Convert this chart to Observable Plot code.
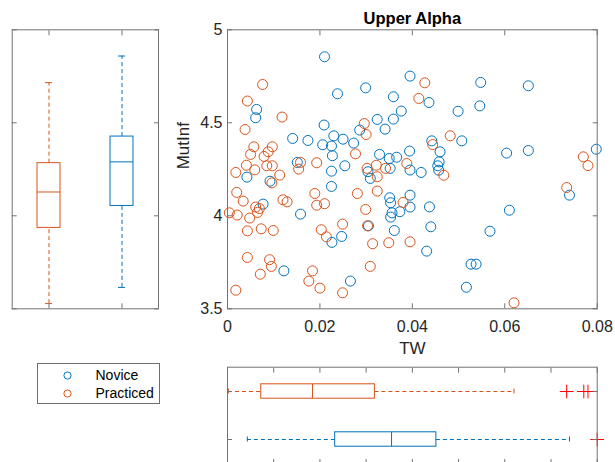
<!DOCTYPE html>
<html><head><meta charset="utf-8">
<script src="https://cdn.jsdelivr.net/npm/d3@7"></script>
<script src="https://cdn.jsdelivr.net/npm/@observablehq/plot@0.6"></script>
<style>
html,body{margin:0;padding:0;background:#fff;}
#wrap{position:relative;width:615px;height:462px;overflow:hidden;background:#fff;font-family:"Liberation Sans",Arial,Helvetica,sans-serif;}
</style></head><body><div id="wrap"></div>
<script>
// ---------- data ----------
const groups = ["Novice", "Practiced"];
const boxGroups = ["Practiced", "Novice"];
const titleText = "Upper Alpha";
const xLabel = "TW";
const yLabel = "MutInf";
const xTicks = [0, 0.02, 0.04, 0.06, 0.08];
const xTicksFine = [0, 0.01, 0.02, 0.03, 0.04, 0.05, 0.06, 0.07, 0.08];
const yTicks = [3.5, 4, 4.5, 5];

const noviceTW = [0.0210,0.0395,0.0299,0.0238,0.0359,0.0063,0.0061,0.0376,0.0324,0.0359,
  0.0209,0.0341,0.0286,0.0141,0.0174,0.0230,0.0250,0.0206,0.0225,0.0273,
  0.0227,0.0329,0.0350,0.0366,0.0394,0.0151,0.0225,0.0254,0.0304,0.0309,
  0.0352,0.0395,0.0042,0.0092,0.0225,0.0351,0.0353,0.0395,0.0395,0.0077,
  0.0158,0.0356,0.0353,0.0373,0.0361,0.0247,0.0226,0.0305,0.0122,0.0266,
  0.0548,0.0651,0.0436,0.0546,0.0499,0.0442,0.0507,0.0460,0.0458,0.0455,
  0.0457,0.0419,0.0604,0.0651,0.0798,0.0740,0.0437,0.0610,0.0440,0.0568,
  0.0431,0.0527,0.0538,0.0517];
const noviceMI = [4.855,4.751,4.688,4.656,4.640,4.572,4.527,4.563,4.518,4.520,
  4.488,4.466,4.461,4.416,4.405,4.430,4.412,4.382,4.375,4.391,
  4.323,4.330,4.308,4.315,4.348,4.287,4.240,4.269,4.237,4.201,
  4.255,4.246,4.208,4.186,4.158,4.097,4.070,4.111,4.047,4.063,
  4.009,4.016,3.993,4.022,3.921,3.889,3.857,3.946,3.704,3.649,
  4.717,4.699,4.609,4.591,4.562,4.403,4.403,4.344,4.290,4.269,
  4.245,4.233,4.337,4.351,4.358,4.111,4.048,4.030,3.941,3.917,
  3.810,3.740,3.740,3.616];
const practicedTW = [0.0076,0.0043,0.0118,0.0038,0.0296,0.0300,0.0057,0.0050,0.0079,0.0088,
  0.0097,0.0041,0.0059,0.0018,0.0085,0.0097,0.0113,0.0096,0.0154,0.0158,
  0.0193,0.0277,0.0302,0.0322,0.0324,0.0342,0.0388,0.0020,0.0034,0.0061,
  0.0069,0.0065,0.0004,0.0021,0.0048,0.0120,0.0129,0.0189,0.0193,0.0210,
  0.0281,0.0324,0.0299,0.0380,0.0043,0.0073,0.0099,0.0203,0.0214,0.0249,
  0.0303,0.0314,0.0349,0.0395,0.0043,0.0091,0.0095,0.0071,0.0184,0.0176,
  0.0200,0.0018,0.0249,0.0309,0.0427,0.0414,0.0482,0.0444,0.0468,0.0770,
  0.0780,0.0734,0.0620];
const practicedMI = [4.706,4.617,4.531,4.464,4.496,4.437,4.371,4.330,4.319,4.344,
  4.371,4.272,4.247,4.233,4.269,4.269,4.219,4.177,4.251,4.287,
  4.285,4.333,4.255,4.272,4.210,4.255,4.281,4.126,4.079,4.047,
  4.039,4.018,4.016,4.004,3.988,4.086,4.075,4.120,4.057,4.065,
  4.120,4.133,4.034,4.072,3.919,3.930,3.921,3.925,3.887,3.955,
  3.946,3.850,3.855,3.860,3.776,3.764,3.728,3.686,3.704,3.649,
  3.611,3.600,3.586,3.728,4.715,4.631,4.430,4.383,4.218,4.317,
  4.270,4.152,3.532];

// box statistics, order = boxGroups (Practiced, Novice)
const miLow  = [3.528, 3.615];
const miQ1   = [3.935, 4.053];
const miMed  = [4.128, 4.290];
const miQ3   = [4.283, 4.426];
const miHigh = [4.716, 4.859];
const twLow  = [0.0002, 0.0043];
const twQ1   = [0.0073, 0.0233];
const twMed  = [0.0184, 0.0355];
const twQ3   = [0.0319, 0.0452];
const twHigh = [0.0620, 0.0740];
const practicedOutTW = [0.0734, 0.0771, 0.0780];
const noviceOutTW = [0.0800];

// ---------- tables ----------
const points = [
  ...noviceTW.map((v, i) => ({group: "Novice", tw: v, mi: noviceMI[i]})),
  ...practicedTW.map((v, i) => ({group: "Practiced", tw: v, mi: practicedMI[i]}))
];
const boxRows = boxGroups.map((g, i) => ({group: g,
  mlow: miLow[i], mq1: miQ1[i], mmed: miMed[i], mq3: miQ3[i], mhigh: miHigh[i],
  tlow: twLow[i], tq1: twQ1[i], tmed: twMed[i], tq3: twQ3[i], thigh: twHigh[i]}));
const outRows = [
  ...practicedOutTW.map(v => ({group: "Practiced", tw: v})),
  ...noviceOutTW.map(v => ({group: "Novice", tw: v}))
];

// ---------- style ----------
const BLUE = "#0072BD", ORANGE = "#D95319", AX = "#737373", TXT = "#262626";
const FONT = '"Liberation Sans", Arial, Helvetica, sans-serif';
const color = {domain: groups, range: [BLUE, ORANGE]};
const wrap = document.getElementById("wrap");
function place(el, left, top) {
  el.style.position = "absolute";
  el.style.left = left + "px";
  el.style.top = top + "px";
  wrap.appendChild(el);
}
const noLabel = () => "";
const baseStyle = {background: "transparent", fontFamily: FONT, fontSize: "16px", color: TXT, overflow: "visible"};
const DASH = "4,3";

// ---------- main scatter ----------
const main = Plot.plot({
  width: 615, height: 360,
  marginLeft: 227, marginRight: 18.3, marginTop: 29.3, marginBottom: 51.7,
  style: baseStyle,
  x: {domain: [0, 0.08]},
  y: {domain: [3.5, 5]},
  color,
  marks: [
    Plot.dot(points, {x: "tw", y: "mi", stroke: "group", r: 5, strokeWidth: 1, fill: "none"}),
    Plot.frame({stroke: AX}),
    Plot.axisX({anchor: "bottom", ticks: xTicks, tickSize: -5, tickPadding: 17, tickFormat: d => String(d), label: null, stroke: AX, fill: TXT, fontSize: 16}),
    Plot.axisX({anchor: "top", ticks: xTicks, tickSize: -5, tickFormat: noLabel, label: null, stroke: AX}),
    Plot.axisY({anchor: "left", ticks: yTicks, tickSize: -5, tickPadding: 10, tickFormat: d => String(d), label: null, stroke: AX, fill: TXT, fontSize: 16}),
    Plot.axisY({anchor: "right", ticks: yTicks, tickSize: -5, tickFormat: noLabel, label: null, stroke: AX}),
    Plot.text([titleText], {text: d => d, frameAnchor: "top", dy: -6, lineAnchor: "bottom", fontWeight: "bold", fontSize: 16.5, fill: "#000"}),
    Plot.text([xLabel], {text: d => d, frameAnchor: "bottom", dy: 40, lineAnchor: "middle", fontSize: 17, fill: TXT}),
    Plot.text([yLabel], {text: d => d, frameAnchor: "left", dx: -44, rotate: -90, lineAnchor: "middle", fontSize: 17, fill: TXT})
  ]
});
place(main, 0, 0);

// ---------- left boxplot (MutInf) ----------
const left = Plot.plot({
  width: 170, height: 320,
  marginLeft: 11.7, marginRight: 12, marginTop: 29.3, marginBottom: 11.7,
  style: baseStyle,
  x: {type: "band", domain: boxGroups, padding: 0},
  y: {domain: [3.5, 5]},
  color,
  marks: [
    Plot.ruleX(boxRows, {x: "group", y1: "mq3", y2: "mhigh", stroke: "group", strokeDasharray: DASH}),
    Plot.ruleX(boxRows, {x: "group", y1: "mlow", y2: "mq1", stroke: "group", strokeDasharray: DASH}),
    Plot.barY(boxRows, {x: "group", y1: "mq1", y2: "mq3", stroke: "group", fill: "none", insetLeft: 25, insetRight: 25}),
    Plot.tickY(boxRows, {x: "group", y: "mmed", stroke: "group", insetLeft: 25, insetRight: 25}),
    Plot.tickY(boxRows, {x: "group", y: "mhigh", stroke: "group", insetLeft: 33, insetRight: 33}),
    Plot.tickY(boxRows, {x: "group", y: "mlow", stroke: "group", insetLeft: 33, insetRight: 33}),
    Plot.frame({stroke: AX}),
    Plot.axisX({anchor: "top", tickSize: -5, tickFormat: noLabel, label: null, stroke: AX}),
    Plot.axisX({anchor: "bottom", tickSize: -5, tickFormat: noLabel, label: null, stroke: AX}),
    Plot.axisY({anchor: "left", ticks: yTicks, tickSize: -5, tickFormat: noLabel, label: null, stroke: AX}),
    Plot.axisY({anchor: "right", ticks: yTicks, tickSize: -5, tickFormat: noLabel, label: null, stroke: AX})
  ]
});
place(left, 0, 0);

// ---------- bottom boxplot (TW) ----------
const bottom = Plot.plot({
  width: 615, height: 130,
  marginLeft: 227, marginRight: 18.3, marginTop: 26.7, marginBottom: 6,
  style: baseStyle,
  x: {domain: [0, 0.08]},
  y: {type: "band", domain: boxGroups, padding: 0},
  color,
  marks: [
    Plot.ruleY(boxRows, {y: "group", x1: "tlow", x2: "tq1", stroke: "group", strokeDasharray: DASH}),
    Plot.ruleY(boxRows, {y: "group", x1: "tq3", x2: "thigh", stroke: "group", strokeDasharray: DASH}),
    Plot.barX(boxRows, {y: "group", x1: "tq1", x2: "tq3", stroke: "group", fill: "none", insetTop: 16.8, insetBottom: 16.8}),
    Plot.tickX(boxRows, {y: "group", x: "tmed", stroke: "group", insetTop: 16.8, insetBottom: 16.8}),
    Plot.tickX(boxRows, {y: "group", x: "tlow", stroke: "group", insetTop: 21.5, insetBottom: 21.5}),
    Plot.tickX(boxRows, {y: "group", x: "thigh", stroke: "group", insetTop: 21.5, insetBottom: 21.5}),
    Plot.dot(outRows, {x: "tw", y: "group", symbol: "plus", stroke: "#ff0000", r: 4.5, strokeWidth: 1}),
    Plot.frame({stroke: AX}),
    Plot.axisX({anchor: "top", ticks: xTicksFine, tickSize: -5, tickFormat: noLabel, label: null, stroke: AX}),
    Plot.axisX({anchor: "bottom", ticks: xTicksFine, tickSize: -5, tickFormat: noLabel, label: null, stroke: AX}),
    Plot.axisY({anchor: "left", tickSize: -5, tickFormat: noLabel, label: null, stroke: AX}),
    Plot.axisY({anchor: "right", tickSize: -5, tickFormat: noLabel, label: null, stroke: AX})
  ]
});
place(bottom, 0, 340);

// ---------- legend ----------
const legBox = document.createElement("div");
legBox.style.width = "121px";
legBox.style.height = "39px";
legBox.style.border = "1px solid #6e6e6e";
legBox.style.background = "#fff";
const leg = Plot.plot({
  width: 121, height: 39,
  marginLeft: 0, marginRight: 0, marginTop: 10.7, marginBottom: 10,
  style: {background: "transparent", fontFamily: FONT, fontSize: "14px", color: "#000"},
  x: {axis: null, domain: [0, 1]},
  y: {type: "point", domain: groups, axis: null, padding: 0},
  color,
  marks: [
    Plot.dot(groups, {y: d => d, frameAnchor: "left", dx: 29, stroke: d => d, r: 3.6, strokeWidth: 1, fill: "none"}),
    Plot.text(groups, {y: d => d, text: d => d, frameAnchor: "left", dx: 57, textAnchor: "start", fontSize: 14, fill: "#000"})
  ]
});
legBox.appendChild(leg);
place(legBox, 36.7, 363.3);
</script>
</body></html>
